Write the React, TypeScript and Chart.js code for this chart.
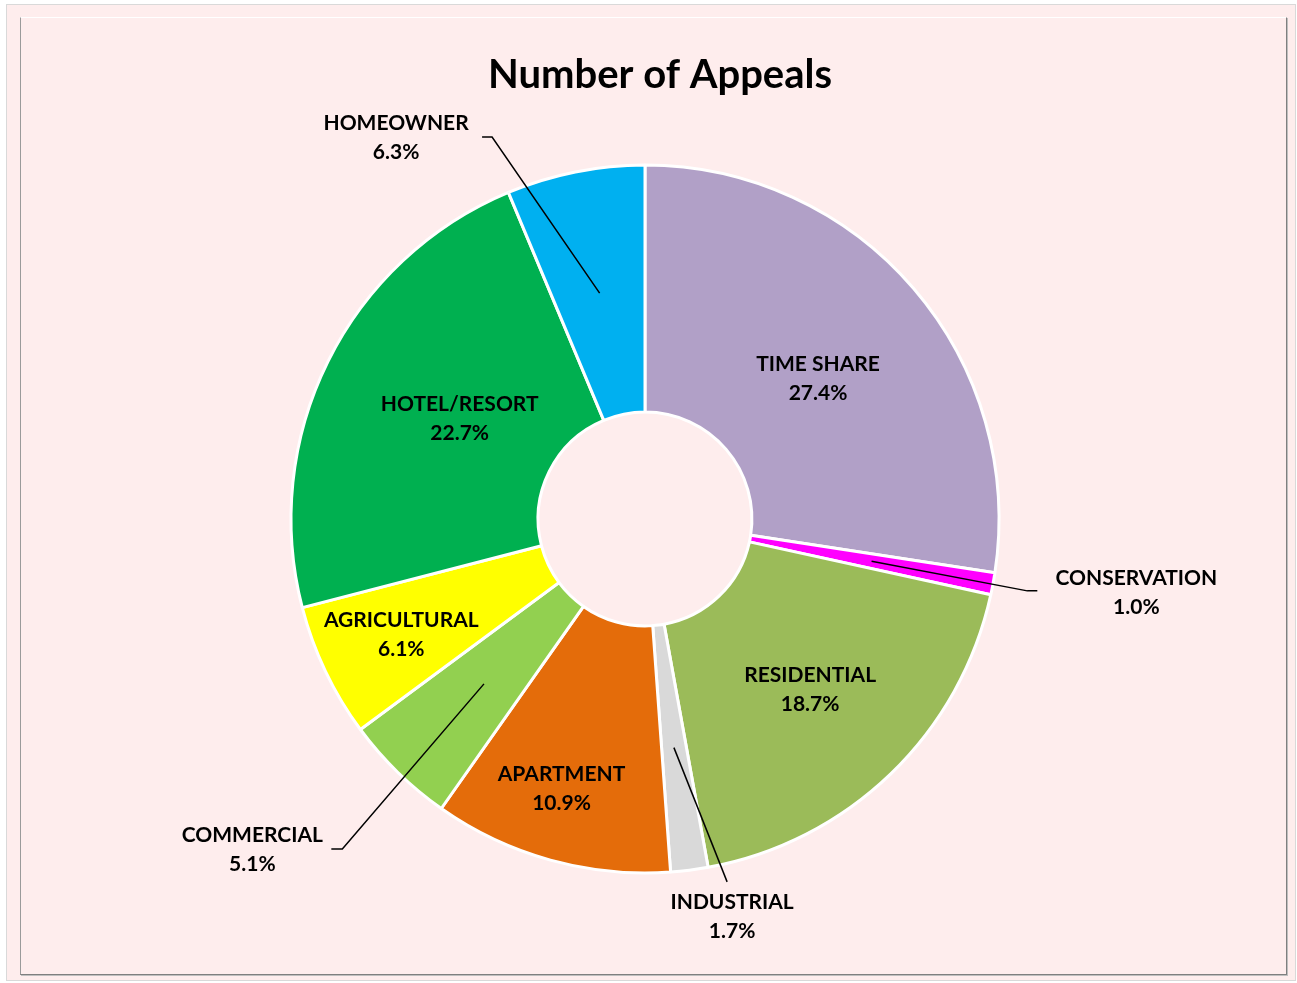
import React, { useEffect, useRef } from "react";
import { Chart, registerables } from "chart.js";

Chart.register(...registerables);

// ---- data ----
const chartTitle = "Number of Appeals";
const categories = [
  "TIME SHARE",
  "CONSERVATION",
  "RESIDENTIAL",
  "INDUSTRIAL",
  "APARTMENT",
  "COMMERCIAL",
  "AGRICULTURAL",
  "HOTEL/RESORT",
  "HOMEOWNER",
];
const shares = [27.4, 1.0, 18.7, 1.7, 10.9, 5.1, 6.1, 22.7, 6.3];
const sliceColors = [
  "#B1A0C7",
  "#FF00FF",
  "#9BBB59",
  "#D9D9D9",
  "#E46C0A",
  "#92D050",
  "#FFFF00",
  "#00B050",
  "#00B0F0",
];

// ---- label placement (layout, not data) ----
// inside labels: t = fraction across the ring, da = angle nudge in degrees
const insidePlacement: Record<string, { t: number; da: number }> = {
  "TIME SHARE": { t: 0.47, da: 1.5 },
  RESIDENTIAL: { t: 0.53, da: 0 },
  APARTMENT: { t: 0.71, da: 1.7 },
  AGRICULTURAL: { t: 0.66, da: 0 },
  "HOTEL/RESORT": { t: 0.42, da: 2 },
};
// outside labels: elbow relative to centre in units of outer radius,
// horizontal tail in px, text-centre offset from tail end in px
const outsidePlacement: Record<string, { ex: number; ey: number; tail: number; tx: number; ty: number }> = {
  CONSERVATION: { ex: 1.08, ey: 0.203, tail: 10, tx: 99, ty: 2 },
  INDUSTRIAL: { ex: 0.232, ey: 1.025, tail: 0, tx: 5, ty: 35 },
  COMMERCIAL: { ex: -0.855, ey: 0.932, tail: -11, tx: -79, ty: 1 },
  HOMEOWNER: { ex: -0.432, ey: -1.079, tail: -10, tx: -86, ty: 1 },
};

const FONT = "Lato, 'Open Sans', sans-serif";
const LABEL_SIZE = 21;
const LINE_GAP = 29;

const labelPlugin = {
  id: "sliceLabels",
  afterDatasetsDraw(chart: any) {
    const ctx = chart.ctx as CanvasRenderingContext2D;
    const meta = chart.getDatasetMeta(0);
    ctx.save();
    ctx.fillStyle = "#000";
    ctx.textAlign = "center";
    ctx.textBaseline = "middle";
    ctx.font = `bold ${LABEL_SIZE}px ${FONT}`;
    meta.data.forEach((arc: any, i: number) => {
      const p = arc.getProps(["x", "y", "startAngle", "endAngle", "innerRadius", "outerRadius"], true);
      const mid = (p.startAngle + p.endAngle) / 2;
      const name = categories[i];
      const pct = shares[i].toFixed(1) + "%";
      const ins = insidePlacement[name];
      let cx: number, cy: number;
      if (ins) {
        const r = p.innerRadius + ins.t * (p.outerRadius - p.innerRadius);
        const a = mid + (ins.da * Math.PI) / 180;
        cx = p.x + Math.cos(a) * r;
        cy = p.y + Math.sin(a) * r;
      } else {
        const o = outsidePlacement[name];
        const r0 = p.innerRadius + 0.5 * (p.outerRadius - p.innerRadius);
        const sx = p.x + Math.cos(mid) * r0;
        const sy = p.y + Math.sin(mid) * r0;
        const elx = p.x + o.ex * p.outerRadius;
        const ely = p.y + o.ey * p.outerRadius;
        const tx = elx + o.tail;
        ctx.beginPath();
        ctx.strokeStyle = "#000";
        ctx.lineWidth = 1.5;
        ctx.moveTo(sx, sy);
        ctx.lineTo(elx, ely);
        if (o.tail !== 0) ctx.lineTo(tx, ely);
        ctx.stroke();
        cx = tx + o.tx;
        cy = ely + o.ty;
      }
      ctx.fillText(name, cx, cy - LINE_GAP / 2);
      ctx.fillText(pct, cx, cy + LINE_GAP / 2);
    });
    // title
    ctx.font = `bold 40px ${FONT}`;
    ctx.fillText(chartTitle, 660, 75);
    ctx.restore();
  },
};

export default function App() {
  const canvasRef = useRef<HTMLCanvasElement | null>(null);

  useEffect(() => {
    if (!canvasRef.current) return;
    const chart = new Chart(canvasRef.current, {
      type: "doughnut",
      data: {
        labels: categories,
        datasets: [
          {
            data: shares,
            backgroundColor: sliceColors,
            borderColor: "#FFFFFF",
            borderWidth: 3,
            hoverOffset: 0,
          },
        ],
      },
      options: {
        responsive: false,
        animation: false,
        radius: 354,
        cutout: "30.2%",
        rotation: 0,
        layout: { padding: { left: 0, right: 7, top: 62, bottom: 7 } },
        plugins: {
          legend: { display: false },
          title: { display: false },
          tooltip: { enabled: false },
        },
        events: [],
      } as any,
      plugins: [labelPlugin],
    });
    return () => chart.destroy();
  }, []);

  return (
    <div style={{ position: "fixed", left: 0, top: 0, width: 1297, height: 983, background: "#FFFFFF" }}>
      <div
        style={{
          position: "absolute",
          left: 6,
          top: 4,
          width: 1288,
          height: 975,
          background: "#FEEDED",
          border: "1px solid #D9D9D9",
        }}
      />
      <div
        style={{
          position: "absolute",
          left: 20,
          top: 17,
          width: 1265,
          height: 956,
          borderTop: "1px solid #FFFFFF",
          borderLeft: "1px solid #9A9A9A",
          borderRight: "1px solid #7F7F7F",
          borderBottom: "1px solid #7F7F7F",
          boxShadow: "1px 1px 0 #BFBFBF",
        }}
      />
      <canvas
        ref={canvasRef}
        width={1297}
        height={983}
        style={{ position: "absolute", left: 0, top: 0, width: 1297, height: 983 }}
      />
    </div>
  );
}
